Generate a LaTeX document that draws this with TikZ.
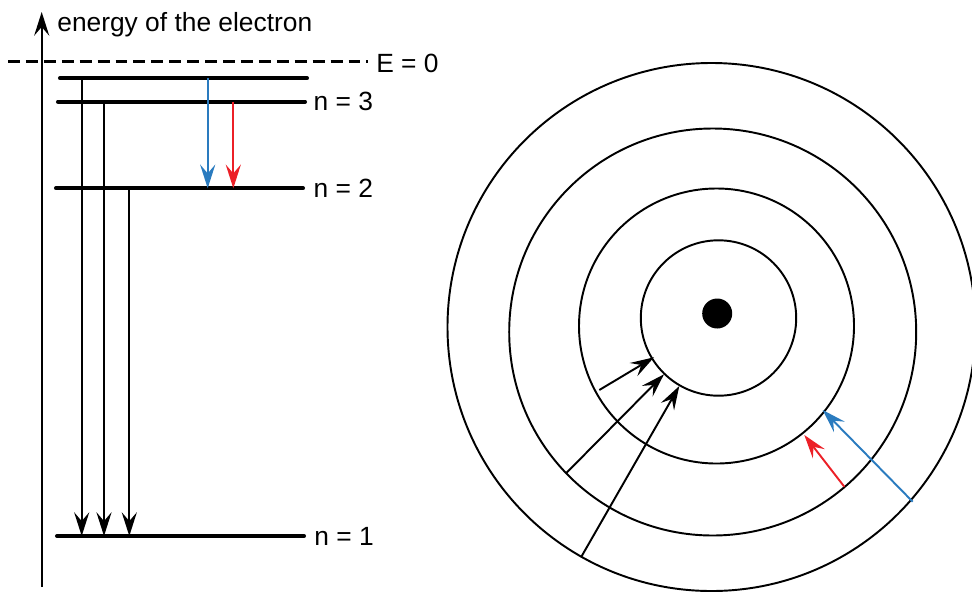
\documentclass[tikz,border=0pt]{standalone}
\usepackage{fontspec}
\setmainfont{Liberation Sans}
\usepackage{xcolor}
\usetikzlibrary{arrows.meta}
\definecolor{ink}{HTML}{000000}
\definecolor{lineblue}{HTML}{2A7BBF}
\definecolor{linered}{HTML}{EC2027}

\begin{document}
\begin{tikzpicture}[x=0.02cm, y=-0.02cm, font=\fontsize{15}{18}\selectfont,
    >={Stealth[length=13.5pt, width=8.6pt, inset=5pt]},
    lvl/.style={ink, line width=2.3pt, line cap=round},
    lvltext/.style={anchor=base west, inner sep=0pt},
    drop/.style={->, ink, line width=1pt},
    shell/.style={ink, line width=1.1pt}]
    \useasboundingbox (0,0) rectangle (972,592);
    \clip (0,0) rectangle (972,592);
    % energy levels
    \coordinate (axbot) at (41.7,587);
    \coordinate (axtop) at (41.7,12);
    \draw[->, ink, line width=1pt] (axbot) -- (axtop);
    \node[lvltext] (title) at (57,31.7) {energy of the electron};
    \coordinate (zerow) at (8,61.7);
    \coordinate (zeroe) at (368,61.7);
    \draw[ink, line width=1.4pt, dash pattern=on 6.8pt off 3.4pt] (zerow) -- (zeroe);
    \node[lvltext] (ezero) at (376,72.3) {E = 0};
    \foreach \nm/\xa/\xb/\y in {n4/60/307/78.3, n3/58/305/101.7, n2/56/303/188.3, n1/57/304/536} {
      \coordinate (\nm w) at (\xa,\y);
      \coordinate (\nm e) at (\xb,\y);
      \draw[lvl] (\nm w) -- (\nm e);
    }
    \node[lvltext] (l3) at (313.3,110) {n = 3};
    \node[lvltext] (l2) at (313.3,197) {n = 2};
    \node[lvltext] (l1) at (314,545) {n = 1};
    \coordinate (t41) at (81.7,78.3);
    \coordinate (t31) at (104,101.7);
    \coordinate (t21) at (129.3,188.3);
    \coordinate (t42) at (207.7,78.3);
    \coordinate (t32) at (233.3,101.7);
    \draw[drop] (t41) -- (t41 |- n1w);
    \draw[drop] (t31) -- (t31 |- n1w);
    \draw[drop] (t21) -- (t21 |- n1w);
    \draw[drop, lineblue] (t42) -- (t42 |- n2w);
    \draw[drop, linered] (t32) -- (t32 |- n2w);
    % the atom
    \foreach \nm/\x/\y/\r in {c1/718.5/318/77.7, c2/716.5/326/137.5, c3/712.7/332/203.5, c4/711.5/327/264} {
      \coordinate (\nm) at (\x,\y);
      \draw[shell] (\nm) circle (\r);
    }
    \coordinate (nuc) at (717.2,313.5);
    \fill[ink] (nuc) circle (15);
    \coordinate (a21) at (599.3,390);   \coordinate (b21) at (654,357.3);
    \coordinate (a31) at (566,473.3);   \coordinate (b31) at (664,374.3);
    \coordinate (a41) at (581,557.3);   \coordinate (b41) at (679.3,386);
    \coordinate (a32) at (844.3,486.7); \coordinate (b32) at (804.3,435);
    \coordinate (a42) at (912.7,501.7); \coordinate (b42) at (822.7,410);
    \draw[drop, line width=1.1pt] (a21) -- (b21);
    \draw[drop, line width=1.1pt] (a31) -- (b31);
    \draw[drop, line width=1.1pt] (a41) -- (b41);
    \draw[drop, line width=1.1pt, linered] (a32) -- (b32);
    \draw[drop, line width=1.1pt, lineblue] (a42) -- (b42);
  \end{tikzpicture}
\end{document}
